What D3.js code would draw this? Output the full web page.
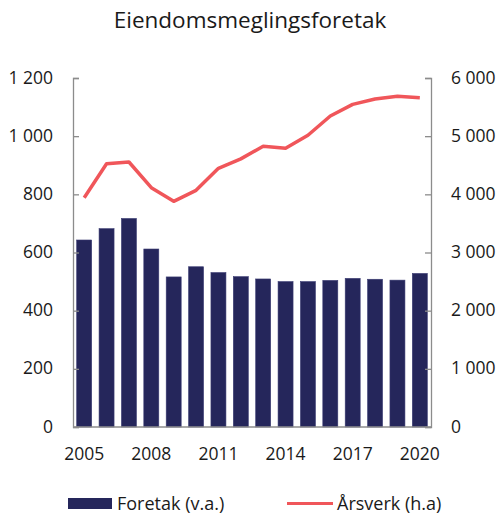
<!DOCTYPE html>
<html>
<head>
<meta charset="utf-8">
<script src="https://cdn.jsdelivr.net/npm/d3@7/dist/d3.min.js"></script>
<style>
  html, body { margin: 0; padding: 0; background: #fff; }
  svg { display: block; font-family: "Open Sans", sans-serif; }
</style>
</head>
<body>
<svg id="chart" width="500" height="526"></svg>
<script>
const years = ["2005","2006","2007","2008","2009","2010","2011","2012","2013","2014","2015","2016","2017","2018","2019","2020"];
const foretak = [643, 682, 717, 612, 516, 551, 531, 517, 509, 500, 500, 504, 511, 508, 505, 528];
const arsverk = [3942, 4527, 4556, 4114, 3880, 4069, 4447, 4610, 4825, 4791, 5015, 5346, 5547, 5638, 5685, 5661];
const leftTicks = [0, 200, 400, 600, 800, 1000, 1200];
const rightTicks = [0, 1000, 2000, 3000, 4000, 5000, 6000];
const xTickLabels = ["2005","2008","2011","2014","2017","2020"];
const title = "Eiendomsmeglingsforetak";
const legendBar = "Foretak (v.a.)";
const legendLine = "Årsverk (h.a)";

const svg = d3.select("#chart");
const mLeft = 73, mRight = 431, mTop = 78, mBottom = 427;
const fmtSp = v => String(v).replace(/\B(?=(\d{3})+(?!\d))/g, " ");

const x = d3.scaleBand().domain(years).range([mLeft, mRight]).paddingInner(0.33).paddingOuter(0.165);
const yL = d3.scaleLinear().domain([0, 1200]).range([mBottom, mTop]);
const yR = d3.scaleLinear().domain([0, 6000]).range([mBottom, mTop]);

const barColor = "#25265b";
const lineColor = "#f0565a";
const axisColor = "#8c8c8c";
const textColor = "#1a1a1a";

svg.append("text").attr("x", 250).attr("y", 28).attr("text-anchor", "middle")
  .attr("font-size", 22.5).attr("fill", textColor).text(title);

// bars
svg.append("g").selectAll("rect").data(years).join("rect")
  .attr("x", d => x(d))
  .attr("y", (d, i) => yL(foretak[i]))
  .attr("width", x.bandwidth())
  .attr("height", (d, i) => yL(0) - yL(foretak[i]))
  .attr("fill", barColor)
  .attr("stroke", "#3a3b72").attr("stroke-width", 0.6);

// line
const line = d3.line().x((d, i) => x(years[i]) + x.bandwidth() / 2).y(d => yR(d));
svg.append("path").datum(arsverk).attr("d", line)
  .attr("fill", "none").attr("stroke", lineColor).attr("stroke-width", 3.5)
  .attr("stroke-linejoin", "round");

// axes
const gL = svg.append("g").attr("transform", `translate(${mLeft},0)`)
  .call(d3.axisRight(yL).tickValues(leftTicks).tickSize(6).tickFormat(""));
const gR = svg.append("g").attr("transform", `translate(${mRight},0)`)
  .call(d3.axisLeft(yR).tickValues(rightTicks).tickSize(6).tickFormat(""));
[gL, gR].forEach(g => {
  g.select(".domain").attr("stroke", axisColor).attr("stroke-width", 1.3);
  g.selectAll(".tick line").attr("stroke", axisColor).attr("stroke-width", 1.3);
});
svg.append("line").attr("x1", mLeft).attr("x2", mRight).attr("y1", mBottom).attr("y2", mBottom)
  .attr("stroke", axisColor).attr("stroke-width", 1.3);

// tick labels
svg.append("g").selectAll("text").data(leftTicks).join("text")
  .attr("x", 53).attr("y", d => yL(d) + 5.5).attr("text-anchor", "end")
  .attr("font-size", 17.5).attr("fill", textColor).text(d => fmtSp(d));
svg.append("g").selectAll("text").data(rightTicks).join("text")
  .attr("x", 451).attr("y", d => yR(d) + 5.5).attr("text-anchor", "start")
  .attr("font-size", 17.5).attr("fill", textColor).text(d => fmtSp(d));
svg.append("g").selectAll("text").data(xTickLabels).join("text")
  .attr("x", d => x(d) + x.bandwidth() / 2).attr("y", 460).attr("text-anchor", "middle")
  .attr("font-size", 17.5).attr("fill", textColor).text(d => d);

// legend
svg.append("rect").attr("x", 68).attr("y", 498).attr("width", 44).attr("height", 11).attr("fill", barColor);
svg.append("text").attr("x", 117).attr("y", 510).attr("font-size", 18).attr("fill", textColor).text(legendBar);
svg.append("line").attr("x1", 287).attr("x2", 333).attr("y1", 503.5).attr("y2", 503.5)
  .attr("stroke", lineColor).attr("stroke-width", 3);
svg.append("text").attr("x", 337).attr("y", 510).attr("font-size", 18).attr("fill", textColor).text(legendLine);
</script>
</body>
</html>
